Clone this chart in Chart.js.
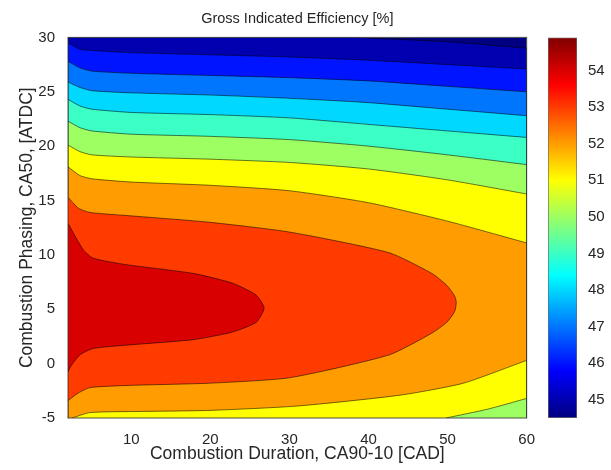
<!DOCTYPE html>
<html>
<head>
<meta charset="utf-8">
<script src="https://cdn.jsdelivr.net/npm/chart.js@4.4.1/dist/chart.umd.min.js"></script>
<style>
  html, body { margin: 0; padding: 0; background: #fff; }
  #wrap { position: relative; width: 611px; height: 470px; }
  #mainBox { position: absolute; left: 0; top: 0; width: 540px; height: 470px; }
  #barBox { position: absolute; left: 540px; top: 0; width: 71px; height: 470px; }
</style>
</head>
<body>
<div id="wrap">
  <div id="mainBox"><canvas id="contourChart"></canvas></div>
  <div id="barBox"><canvas id="colorbarChart"></canvas></div>
</div>
<script>
// axis ranges and ticks
const xRange = [2, 60];
const yRange = [-5, 30];
const xTicks = [10, 20, 30, 40, 50, 60];
const yTicks = [-5, 0, 5, 10, 15, 20, 25, 30];
const cbRange = [44.5, 54.9];
const cbTicks = [45, 46, 47, 48, 49, 50, 51, 52, 53, 54];

// contour lines (x = CA90-10, y = CA50)
const gridX = [2, 3.5, 5, 10, 20, 30, 40, 50, 60];
const c46 = [29.5, 28.9, 28.8, 28.6, 28.4, 28.2, 27.9, 27.5, 27.1];
const c47 = [27.8, 27.2, 26.9, 26.7, 26.5, 26.3, 26.0, 25.5, 25.0];
const c48 = [25.9, 25.4, 25.1, 24.9, 24.7, 24.4, 24.0, 23.4, 22.8];
const c49 = [24.3, 23.7, 23.4, 23.1, 22.9, 22.6, 22.0, 21.4, 20.8];
const c50 = [22.3, 21.7, 21.4, 21.1, 20.9, 20.6, 20.0, 19.2, 18.3];
const c51 = [20.1, 19.5, 19.2, 19.0, 18.8, 18.5, 17.9, 16.9, 15.6];
const c52 = [18.1, 17.3, 17.0, 16.7, 16.4, 15.9, 14.8, 13.1, 11.1];

const c45X = [38, 50, 60];
const c45Y = [30, 29.6, 29.0];
const c51lowX = [49.8, 55, 60];
const c51lowY = [-5, -4.2, -3.2];
const c52lowX = [2.5, 4.8, 11, 20, 31, 44, 52, 60];
const c52lowY = [-5, -4.5, -4.4, -4.3, -3.9, -2.9, -1.8, 0.3];

const c53X = [2, 3.3, 4.8, 9.8, 19.9, 30, 42.6, 48, 49.9, 50.9, 51.1, 50.9, 49.9, 48, 42.6, 30, 19.9, 9.8, 4.8, 3.3, 2];
const c53Y = [15.3, 14.3, 13.9, 13.6, 13.0, 12.1, 10.2, 8.3, 7.2, 6.2, 5.6, 4.8, 3.8, 2.8, 0.8, -1.3, -1.8, -2.0, -2.2, -2.7, -3.4];
const c54X = [2, 3.9, 5.2, 9.4, 17.8, 22.8, 25.8, 26.8, 25.8, 22.8, 17.8, 9.4, 5.2, 3.5, 2.3, 2];
const c54Y = [12.9, 10.5, 9.7, 9.1, 8.3, 7.4, 6.3, 5.1, 3.8, 2.9, 2.2, 1.7, 1.4, 0.8, -0.3, -0.8];

const textColor = '#262626';
Chart.defaults.font.family = "'Liberation Sans', Arial, Helvetica, sans-serif";

function jet(v) {
  const t = (v - cbRange[0]) / (cbRange[1] - cbRange[0]);
  const c = x => Math.round(Math.max(0, Math.min(1, x)) * 255);
  const r = c(Math.min(4 * t - 1.5, -4 * t + 4.5));
  const g = c(Math.min(4 * t - 0.5, -4 * t + 3.5));
  const b = c(Math.min(4 * t + 0.5, -4 * t + 2.5));
  return `rgb(${r},${g},${b})`;
}

function pts(xs, ys) {
  return xs.map((x, i) => ({ x: x, y: ys[i] }));
}
// a point given twice keeps a sharp corner when the line is smoothed
function corner(p) {
  return [p, { x: p.x, y: p.y }];
}
function withCorners(list) {
  return [...corner(list[0]), ...list.slice(1, -1), ...corner(list[list.length - 1])];
}

const L = xRange[0], R = xRange[1], B = yRange[0], T = yRange[1];
const BL = { x: L, y: B }, BR = { x: R, y: B };

const regions = [
  { level: cbRange[0], line: false, points: [BL, { x: L, y: T }, { x: R, y: T }, BR] },
  { level: 45, points: [BL, ...corner({ x: L, y: T }), ...withCorners(pts(c45X, c45Y)), BR] },
  { level: 46, points: [BL, ...withCorners(pts(gridX, c46)), BR] },
  { level: 47, points: [BL, ...withCorners(pts(gridX, c47)), BR] },
  { level: 48, points: [BL, ...withCorners(pts(gridX, c48)), BR] },
  { level: 49, points: [BL, ...withCorners(pts(gridX, c49)), BR] },
  { level: 50, points: [BL, ...withCorners(pts(gridX, c50)), BR] },
  { level: 51, points: [BL, ...withCorners(pts(gridX, c51)), ...withCorners(pts(c51lowX, c51lowY).reverse())] },
  { level: 52, points: [BL, ...withCorners(pts(gridX, c52)), ...withCorners(pts(c52lowX, c52lowY).reverse())] },
  { level: 53, points: pts(c53X, c53Y) },
  { level: 54, points: pts(c54X, c54Y) }
];

const datasets = regions.map((r, i) => ({
  data: r.points,
  backgroundColor: jet(r.level),
  borderColor: r.line === false ? 'rgba(0,0,0,0)' : 'rgba(0,0,0,0.6)',
  borderWidth: r.line === false ? 0 : 0.9,
  fill: 'shape',
  tension: r.line === false ? 0 : 0.2,
  pointRadius: 0,
  pointHitRadius: 0,
  order: regions.length - i
}));

const framePlugin = {
  id: 'frame',
  afterDatasetsDraw(chart) {
    const { ctx, chartArea: a } = chart;
    ctx.save();
    ctx.strokeStyle = 'rgba(50,50,50,0.85)';
    ctx.lineWidth = 1;
    ctx.strokeRect(a.left, a.top, a.right - a.left, a.bottom - a.top);
    ctx.restore();
  }
};

new Chart(document.getElementById('contourChart'), {
  type: 'line',
  data: { datasets: datasets },
  options: {
    responsive: true,
    maintainAspectRatio: false,
    animation: false,
    events: [],
    layout: { padding: { top: 0, right: 12, bottom: 0, left: 0 } },
    plugins: {
      legend: { display: false },
      tooltip: { enabled: false },
      title: {
        display: true,
        text: 'Gross Indicated Efficiency [%]',
        fullSize: false,
        color: textColor,
        font: { size: 14.5, weight: 'normal' },
        padding: { top: 10, bottom: 10 }
      }
    },
    scales: {
      x: {
        type: 'linear',
        min: xRange[0],
        max: xRange[1],
        afterBuildTicks: axis => { axis.ticks = xTicks.map(v => ({ value: v })); },
        afterFit: axis => { axis.height = 52; },
        grid: { display: false },
        border: { display: false },
        ticks: { padding: 5, color: textColor, font: { size: 15 } },
        title: {
          display: true,
          text: 'Combustion Duration, CA90-10 [CAD]',
          color: textColor,
          font: { size: 17.5 },
          padding: { top: 0, bottom: 5.5 }
        }
      },
      y: {
        type: 'linear',
        min: yRange[0],
        max: yRange[1],
        afterBuildTicks: axis => { axis.ticks = yTicks.map(v => ({ value: v })); },
        afterFit: axis => { axis.width = 68; },
        grid: { display: false },
        border: { display: false },
        ticks: { padding: 5, color: textColor, font: { size: 15 } },
        title: {
          display: true,
          text: 'Combustion Phasing, CA50, [ATDC]',
          color: textColor,
          font: { size: 17.5 },
          padding: { top: 16.5, bottom: 0 }
        }
      }
    }
  },
  plugins: [framePlugin]
});

function jetGradient(chart) {
  const area = chart.chartArea;
  if (!area) return null;
  const g = chart.ctx.createLinearGradient(0, area.bottom, 0, area.top);
  [0, 0.125, 0.375, 0.625, 0.875, 1].forEach(t => {
    g.addColorStop(t, jet(cbRange[0] + t * (cbRange[1] - cbRange[0])));
  });
  return g;
}

new Chart(document.getElementById('colorbarChart'), {
  type: 'bar',
  data: {
    labels: [''],
    datasets: [{
      data: [cbRange],
      backgroundColor: ctx => jetGradient(ctx.chart),
      borderColor: 'rgba(70,70,70,0.8)',
      borderWidth: 1,
      borderSkipped: false,
      barPercentage: 1,
      categoryPercentage: 1
    }]
  },
  options: {
    responsive: true,
    maintainAspectRatio: false,
    animation: false,
    events: [],
    layout: { padding: { top: 37.5, bottom: 52, left: 8, right: 0 } },
    plugins: { legend: { display: false }, tooltip: { enabled: false } },
    scales: {
      x: { display: false },
      y: {
        position: 'right',
        min: cbRange[0],
        max: cbRange[1],
        afterBuildTicks: axis => { axis.ticks = cbTicks.map(v => ({ value: v })); },
        afterFit: axis => { axis.width = 34; },
        grid: { display: false },
        border: { display: false },
        ticks: { padding: 3, color: textColor, font: { size: 15 } }
      }
    }
  }
});
</script>
</body>
</html>
